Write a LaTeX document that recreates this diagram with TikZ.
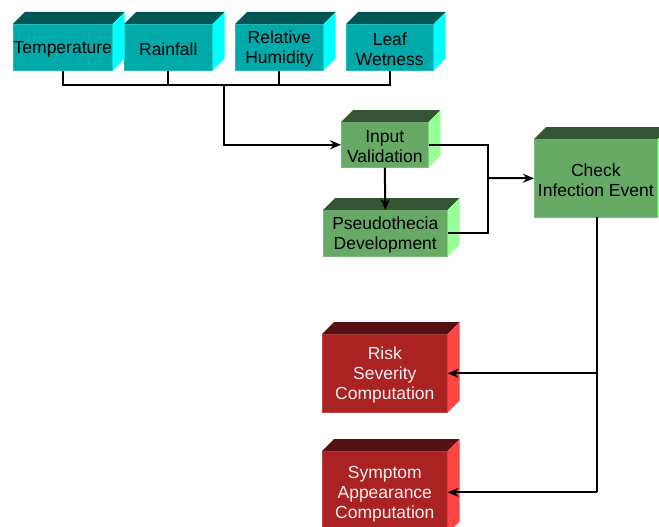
\documentclass[tikz,border=0pt]{standalone}
\usepackage{fontspec}
\setmainfont{Liberation Sans}
\usetikzlibrary{arrows.meta,calc}
\definecolor{cyfront}{HTML}{00AAAA}
\definecolor{cytop}{HTML}{005555}
\definecolor{cyside}{HTML}{00FFFF}
\definecolor{grfront}{HTML}{66AA66}
\definecolor{grtop}{HTML}{335533}
\definecolor{grside}{HTML}{99FF99}
\definecolor{rdfront}{HTML}{AA2222}
\definecolor{rdtop}{HTML}{551111}
\definecolor{rdside}{HTML}{FF4444}
\definecolor{rdtext}{HTML}{FFF0F0}
\newcommand\cubefaces[3]{%
  \fill[#2] (#1.north west) -- ++(12,12) -- ($(#1.north east)+(12,12)$) -- (#1.north east) -- cycle;
  \fill[#3] (#1.north east) -- ++(12,12) -- ($(#1.south east)+(12,12)$) -- (#1.south east) -- cycle;}
\tikzset{
  box/.style={rectangle, inner sep=0pt, anchor=north west},
  txt/.style={align=center, font=\fontsize{17.5}{20}\selectfont, yshift=-1.5pt},
  cybox/.style={box, fill=cyfront, draw=cyfront!85!white, line width=0.6pt},
  grbox/.style={box, fill=grfront, draw=grfront!85!white, line width=0.6pt},
  rdbox/.style={box, fill=rdfront, draw=rdfront!85!white, line width=0.6pt},
  rdtxt/.style={txt, text=rdtext},
  conn/.style={line width=2pt, black},
  arr/.style={conn, -{Stealth[length=11pt,width=9pt]}}
}
\begin{document}
\begin{tikzpicture}[x=1pt,y=1pt]
\useasboundingbox (0,0) rectangle (659,-527);
\clip (0,0) rectangle (659,-527);
\fill[white] (0,0) rectangle (659,-527);
% top inputs
\node[cybox, minimum width=99pt, minimum height=46pt, label={[txt]center:Temperature}] (temp) at (13,-24) {};
\node[cybox, minimum width=88pt, minimum height=46pt, label={[txt]center:Rainfall}] (rain) at (124,-24) {};
\node[cybox, minimum width=88pt, minimum height=46pt, label={[txt]center:{Relative\\Humidity}}] (rh) at (235,-24) {};
\node[cybox, minimum width=87pt, minimum height=46pt, label={[txt]center:{Leaf\\Wetness}}] (lw) at (346,-24) {};
\cubefaces{temp}{cytop}{cyside}
\cubefaces{rain}{cytop}{cyside}
\cubefaces{rh}{cytop}{cyside}
\cubefaces{lw}{cytop}{cyside}
% green
\node[grbox, minimum width=87pt, minimum height=45pt, label={[txt]center:{Input\\Validation}}] (iv) at (341,-122) {};
\node[grbox, minimum width=124pt, minimum height=46pt, label={[txt]center:{Pseudothecia\\Development}}] (ps) at (323,-210) {};
\node[grbox, minimum width=123pt, minimum height=78pt, label={[txt]center:{Check\\Infection Event}}] (chk) at (534,-139) {};
\cubefaces{iv}{grtop}{grside}
\cubefaces{ps}{grtop}{grside}
\cubefaces{chk}{grtop}{grside}
% red
\node[rdbox, minimum width=125pt, minimum height=78pt, label={[rdtxt]center:{Risk\\Severity\\Computation}}] (risk) at (322,-334) {};
\node[rdbox, minimum width=125pt, minimum height=82pt, label={[rdtxt]center:{Symptom\\Appearance\\Computation}}] (sym) at (322,-451) {};
\cubefaces{risk}{rdtop}{rdside}
\cubefaces{sym}{rdtop}{rdside}
% connectors
\coordinate (bus) at (224,-85);
\draw[conn] (temp.south) |- (lw.south |- bus) -- (lw.south);
\draw[conn] (rain.south) -- (rain.south |- bus);
\draw[conn] (rh.south) -- (rh.south |- bus);
\draw[arr] (bus) |- (iv.west);
\draw[arr] (iv.south) -- (ps.north);
\coordinate (mrg) at (488,-178);
\draw[conn] (iv.east) -| (mrg) |- (ps.east);
\draw[arr] (mrg) -- (chk.west);
\coordinate (drop) at (597,-217);
\draw[conn] (drop) -- (drop |- sym.east);
\draw[arr] (drop |- risk.east) -- (risk.east);
\draw[arr] (drop |- sym.east) -- (sym.east);
\end{tikzpicture}
\end{document}
